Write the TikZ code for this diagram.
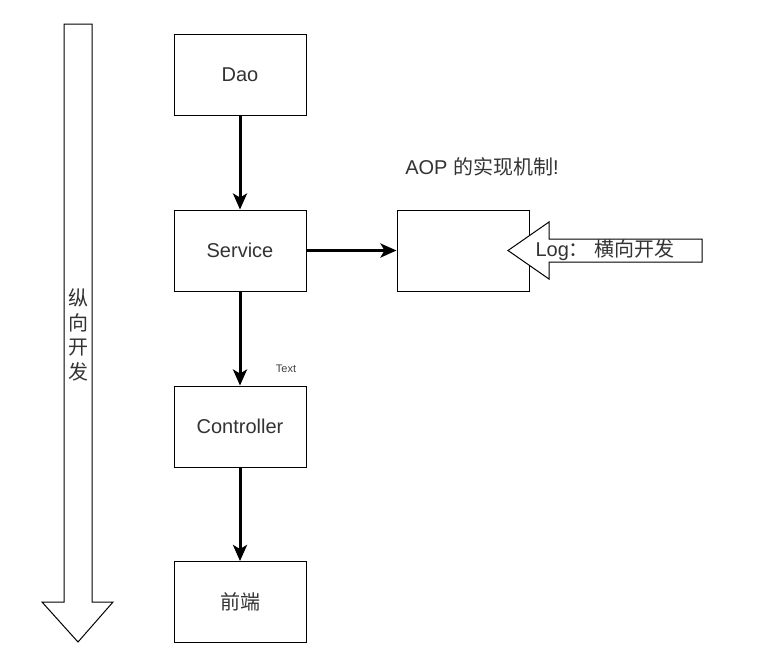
\documentclass[tikz,border=0pt]{standalone}
\usepackage{fontspec}
\setmainfont{Liberation Sans}
\newfontfamily\cjk{Noto Sans CJK SC}
\usetikzlibrary{arrows.meta}

\tikzset{
  layer/.style={draw, line width=1pt, minimum width=132pt, minimum height=81pt,
    font=\fontsize{20}{24}\selectfont, text=black!80},
  flow/.style={line width=3pt, -{Stealth[length=16pt, width=14pt, inset=4pt]}},
  blockarrow/.style={draw, fill=white, line width=1pt},
}

\begin{document}
\begin{tikzpicture}[x=1pt, y=-1pt]
  \useasboundingbox (0,0) rectangle (774,670);

  % vertical development arrow
  \coordinate (V1) at (64,24);
  \coordinate (V2) at (92,24);
  \coordinate (V3) at (92,602);
  \coordinate (V4) at (113,602);
  \coordinate (V5) at (78,642);
  \coordinate (V6) at (42,602);
  \coordinate (V7) at (64,602);
  \draw[blockarrow] (V1) -- (V2) -- (V3) -- (V4) -- (V5) -- (V6) -- (V7) -- cycle;
  \node[font=\cjk\fontsize{20}{24.5}\selectfont, text=black!80, align=center]
    (vtext) at (78,335) {纵\\向\\开\\发};

  \node[layer] (dao) at (240,75) {Dao};
  \node[layer] (service) at (240,250.5) {Service};
  \node[layer] (controller) at (240,426.5) {Controller};
  \node[layer] (front) at (240,602) {\cjk 前端};
  \node[layer] (aop) at (463,250.5) {};

  \draw[flow] (dao) -- (service);
  \draw[flow] (service) -- (controller);
  \draw[flow] (controller) -- (front);
  \draw[flow] (service) -- (aop);

  \node[font=\fontsize{11}{13}\selectfont, text=black!75] (lbl) at (286,369) {Text};
  \node[font=\fontsize{20}{24}\selectfont, text=black!80] (title) at (482,167)
    {AOP {\cjk 的实现机制}!};

  % horizontal (Log) arrow
  \coordinate (H1) at (508,250.5);
  \coordinate (H2) at (549,222);
  \coordinate (H3) at (549,239);
  \coordinate (H4) at (702,239);
  \coordinate (H5) at (702,262);
  \coordinate (H6) at (549,262);
  \coordinate (H7) at (549,279);
  \draw[blockarrow] (H1) -- (H2) -- (H3) -- (H4) -- (H5) -- (H6) -- (H7) -- cycle;
  \node[font=\fontsize{20}{24}\selectfont, text=black!80] (log) at (605,250.5)
    {Log{\cjk ：} {\cjk 横向开发}};
\end{tikzpicture}
\end{document}
